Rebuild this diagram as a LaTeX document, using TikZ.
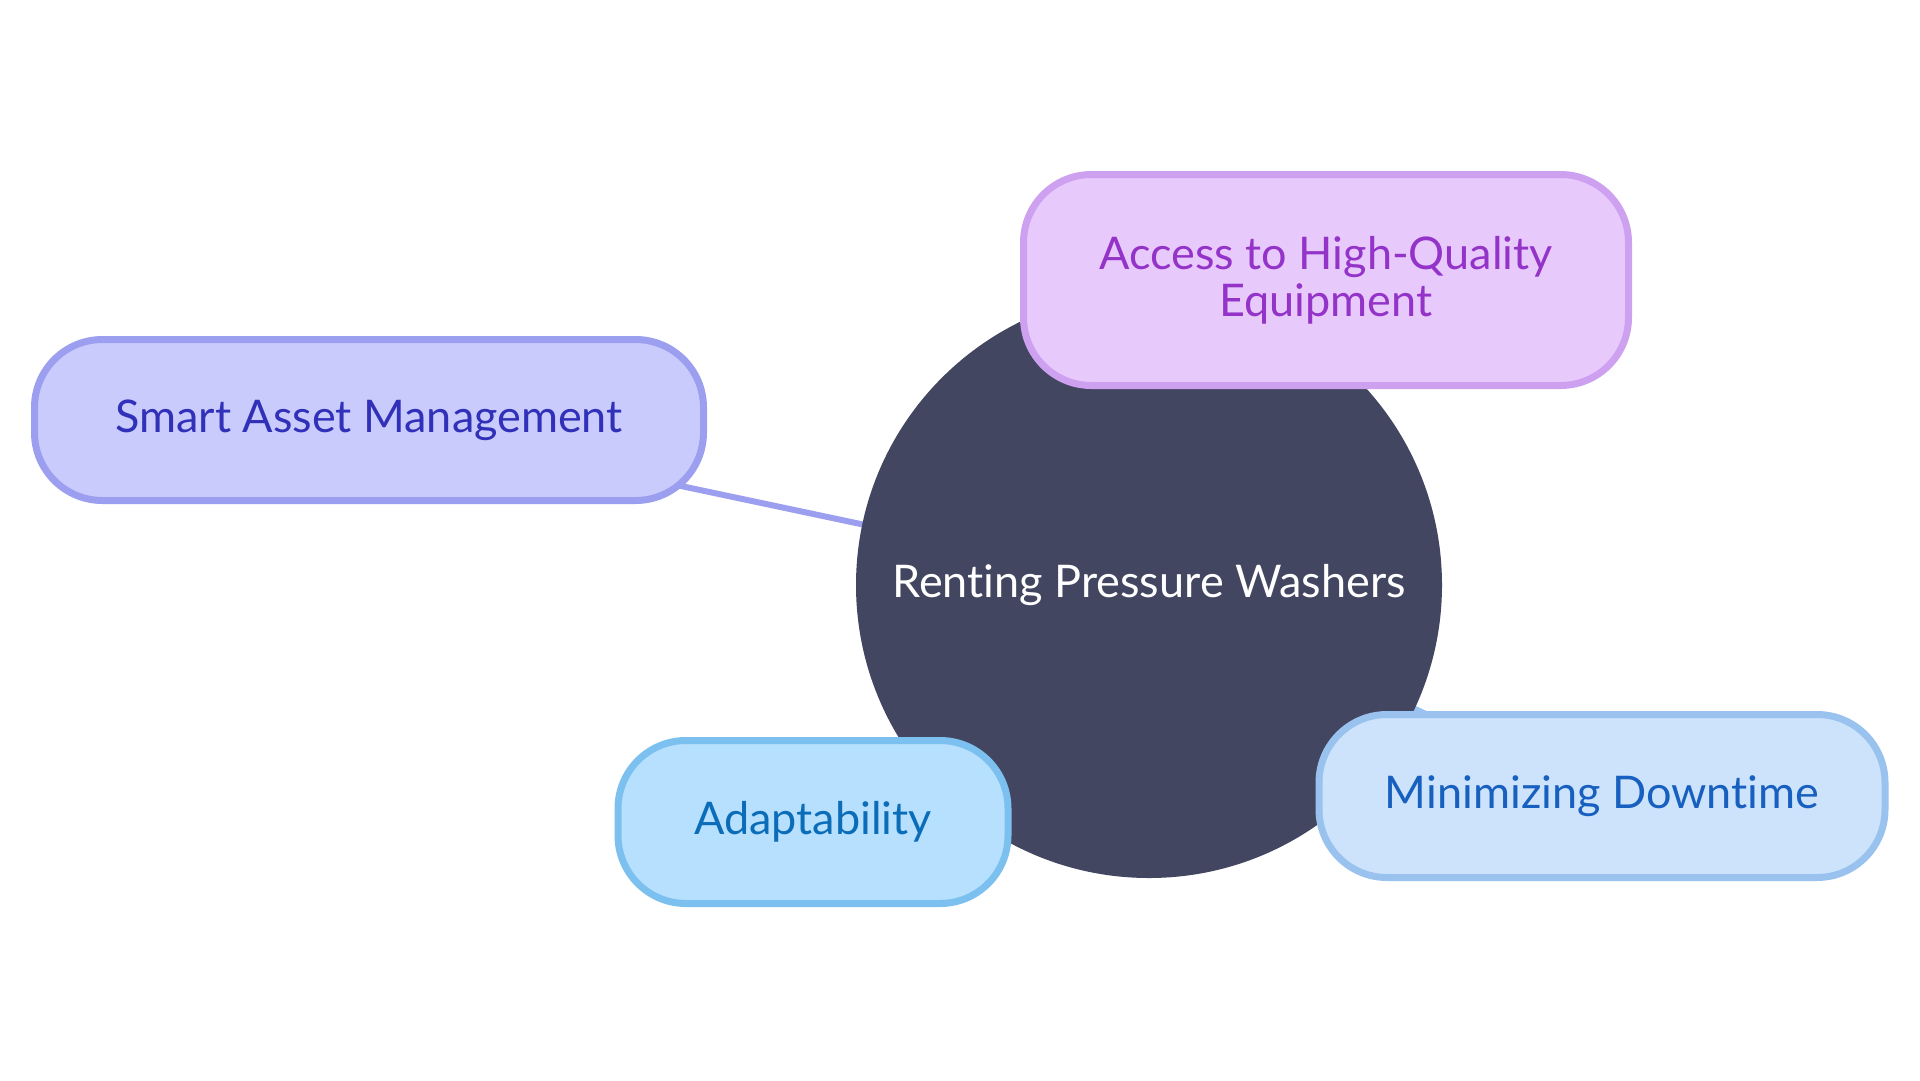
\documentclass[tikz,border=0pt]{standalone}
\usepackage{fontspec}
\setmainfont{Lato}[Ligatures={NoCommon}]
\definecolor{circfill}{HTML}{424660}
\definecolor{accfill}{HTML}{E8C9FC}
\definecolor{accdraw}{HTML}{CDA0F0}
\definecolor{acctext}{HTML}{9333C8}
\definecolor{smfill}{HTML}{CACBFD}
\definecolor{smdraw}{HTML}{9C9FEF}
\definecolor{smtext}{HTML}{3030B8}
\definecolor{adfill}{HTML}{B6E0FE}
\definecolor{addraw}{HTML}{7CC0F0}
\definecolor{adtext}{HTML}{0B6CB8}
\definecolor{mifill}{HTML}{CDE3FB}
\definecolor{midraw}{HTML}{9AC2EE}
\definecolor{mitext}{HTML}{1760C0}
\tikzset{
  pill/.style={rectangle, rounded corners=68pt, line width=7pt, inner sep=0pt, align=center,
    font=\fontsize{45}{47}\selectfont},
  link/.style={line width=6pt},
}
\begin{document}
\begin{tikzpicture}[x=1pt,y=-1pt]
\useasboundingbox[fill=white] (0,0) rectangle (1920,1080);
\coordinate (c) at (1149,585);
\coordinate (accC) at (1326,280);
\coordinate (smC) at (369,420);
\coordinate (adC) at (813,822);
\coordinate (miC) at (1602,796);
% connectors
\draw[link, draw=accdraw] (c) -- (accC);
\draw[link, draw=smdraw] (c) -- (smC);
\draw[link, draw=addraw] (c) -- (adC);
\draw[link, draw=midraw] (c) -- (miC);
% central circle
\node[circle, fill=circfill, minimum size=586pt, inner sep=0pt, text=white,
  font=\fontsize{45}{47}\selectfont] (root) at (c) {Renting Pressure Washers};
% children
\node[pill, fill=accfill, draw=accdraw, text=acctext, minimum width=605pt, minimum height=211pt]
  (acc) at (accC) {Access to High-Quality\\Equipment};
\node[pill, fill=smfill, draw=smdraw, text=smtext, minimum width=669pt, minimum height=161pt]
  (sm) at (smC) {Smart Asset Management};
\node[pill, fill=adfill, draw=addraw, text=adtext, minimum width=390pt, minimum height=163pt]
  (ad) at (adC) {Adaptability};
\node[pill, fill=mifill, draw=midraw, text=mitext, minimum width=566pt, minimum height=163pt]
  (mi) at (miC) {Minimizing Downtime};
\end{tikzpicture}
\end{document}
